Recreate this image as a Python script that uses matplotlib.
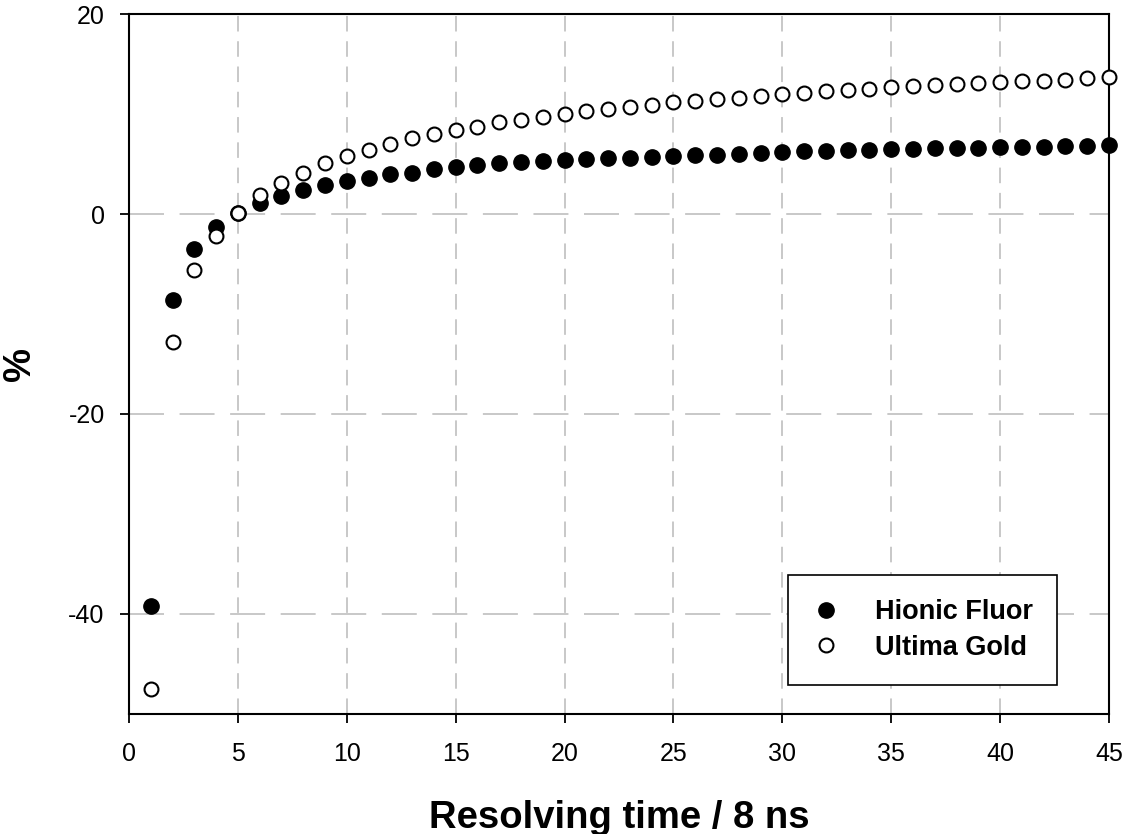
import numpy as np
import matplotlib.pyplot as plt

plt.rcParams['font.family'] = ['Liberation Sans', 'DejaVu Sans']
plt.rcParams['axes.unicode_minus'] = False

# resolving time index (1..45)
res_time = list(range(1, 46))

# Hionic Fluor, % deviation
hionic = [-39.2, -8.6, -3.5, -1.3, 0.1, 1.1, 1.8, 2.4, 2.9, 3.3,
          3.6, 4.0, 4.15, 4.5, 4.7, 4.9, 5.1, 5.2, 5.3, 5.4,
          5.5, 5.6, 5.65, 5.7, 5.8, 5.9, 5.95, 6.05, 6.15, 6.25,
          6.3, 6.35, 6.4, 6.45, 6.5, 6.55, 6.6, 6.6, 6.65, 6.7,
          6.7, 6.75, 6.8, 6.85, 6.9]

# Ultima Gold, % deviation
ultima = [-47.5, -12.8, -5.6, -2.2, 0.1, 1.9, 3.1, 4.1, 5.1, 5.8,
          6.4, 7.0, 7.6, 8.0, 8.4, 8.7, 9.2, 9.4, 9.7, 10.0,
          10.3, 10.5, 10.7, 10.9, 11.2, 11.3, 11.5, 11.6, 11.8, 12.0,
          12.1, 12.3, 12.4, 12.5, 12.7, 12.8, 12.9, 13.0, 13.1, 13.2,
          13.3, 13.35, 13.45, 13.6, 13.7]

fig = plt.figure(figsize=(11.25, 8.34), dpi=100)
ax = fig.add_axes([0.1147, 0.1439, 0.8711, 0.8393])

ax.plot(res_time, hionic, 'o', color='black', markersize=11,
        linestyle='none', label='Hionic Fluor', clip_on=False, zorder=3)
ax.plot(res_time, ultima, 'o', markerfacecolor='white', markeredgecolor='black',
        markeredgewidth=1.5, markersize=10, linestyle='none',
        label='Ultima Gold', clip_on=False, zorder=4)

ax.set_xlim(0, 45)
ax.set_ylim(-50, 20)
ax.set_xticks(np.arange(0, 46, 5))
ax.set_yticks([-40, -20, 0, 20])

# grid: light grey dashes, different lengths for each direction
ax.xaxis.grid(True, color='#c8c8c8', linewidth=1.4, dashes=(8, 5))
ax.yaxis.grid(True, color='#c8c8c8', linewidth=1.4, dashes=(18, 8))
ax.set_axisbelow(True)

for sp in ax.spines.values():
    sp.set_linewidth(1.5)

ax.tick_params(direction='out', length=6.5, width=1.3, labelsize=18)
ax.tick_params(axis='x', pad=14)
ax.tick_params(axis='y', pad=11)

ax.set_xlabel('Resolving time / 8 ns', fontsize=27.5, fontweight='bold', labelpad=24)
ax.set_ylabel('%', fontsize=27.5, fontweight='bold', labelpad=22)

leg = ax.legend(loc='lower right', bbox_to_anchor=(0.947, 0.041),
                prop={'weight': 'bold', 'size': 19.5}, frameon=True, fancybox=False,
                borderpad=0.9, handlelength=1.0, handletextpad=1.3,
                labelspacing=0.35, borderaxespad=0)
leg.get_frame().set_edgecolor('black')
leg.get_frame().set_linewidth(1.2)
leg.get_frame().set_alpha(1)

fig.savefig('out.png', dpi=100)
